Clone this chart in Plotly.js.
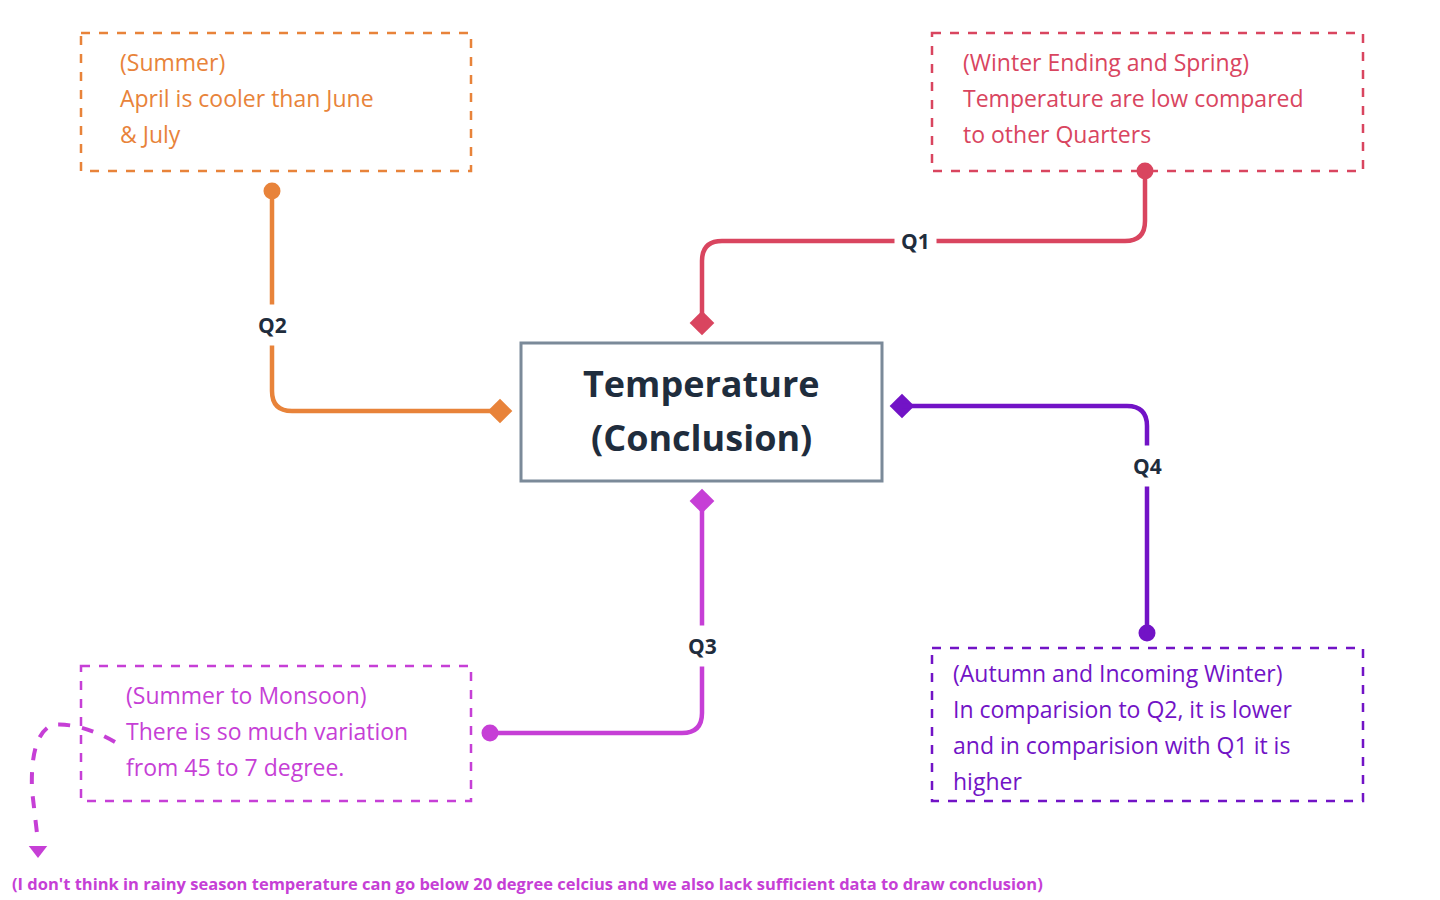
<!DOCTYPE html>
<html><head><meta charset="utf-8">
<script src="https://cdn.plot.ly/plotly-3.0.1.min.js"></script>
<style>body{margin:0;background:#fff}#chart{width:1440px;height:900px}</style>
</head><body><div id="chart"></div>
<script>
// Note boxes: [x0, y0, x1, y1], colour, text lines
const boxNames = ['Q2', 'Q1', 'Q3', 'Q4'];
const boxColors = ['#E8833A', '#D9455F', '#C63FD6', '#7213C6'];
const boxRects = [[81, 33, 471, 171], [932, 33, 1363, 171], [81, 666, 471, 801], [932, 648, 1363, 801]];
const boxTextPos = [[118, 62], [961, 62], [124, 695], [951, 673]];
const boxTexts = [
  ['(Summer)', 'April is cooler than June', '& July'],
  ['(Winter Ending and Spring)', 'Temperature are low compared', 'to other Quarters'],
  ['(Summer to Monsoon)', 'There is so much variation', 'from 45 to 7 degree.'],
  ['(Autumn and Incoming Winter)', 'In comparision to Q2, it is lower', 'and in comparision with Q1 it is', 'higher']
];
// Connector paths (SVG, in page pixels), start dot, end diamond, label position
const connPaths = [
  'M272,191 L272,391 Q272,411 292,411 L500,411',
  'M1145,171 L1145,221 Q1145,241 1125,241 L722,241 Q702,241 702,261 L702,323',
  'M702,501 L702,713 Q702,733 682,733 L490,733',
  'M902,406 L1127,406 Q1147,406 1147,426 L1147,633'
];
const dotPts = [[272, 191], [1145, 171], [490, 733], [1147, 633]];
const diamondPts = [[500, 411], [702, 323], [702, 501], [902, 406]];
const labelPts = [[272, 325], [915, 241], [702, 646], [1147, 466]];
const centerRect = [521, 343, 882, 481];
const centerText = ['Temperature', '(Conclusion)'];
const footnote = "(I don't think in rainy season temperature can go below 20 degree celcius and we also lack sufficient data to draw conclusion)";

const shapes = [], annotations = [], traces = [];
const FONT = '"Open Sans", "Noto Sans", sans-serif';

boxNames.forEach((name, i) => {
  const c = boxColors[i], r = boxRects[i];
  shapes.push({type: 'rect', x0: r[0], y0: r[1], x1: r[2], y1: r[3],
    line: {color: c, width: 2.5, dash: 'dash'}});
  shapes.push({type: 'path', path: connPaths[i], line: {color: c, width: 4.5}});
  boxTexts[i].forEach((t, k) => annotations.push({
    x: boxTextPos[i][0], y: boxTextPos[i][1] + k * 36, text: t, showarrow: false,
    xanchor: 'left', yanchor: 'middle', font: {family: FONT, size: 23, color: c}}));
  annotations.push({x: labelPts[i][0], y: labelPts[i][1], text: '<b>' + name + '</b>',
    showarrow: false, bgcolor: '#ffffff', borderpad: 6,
    font: {family: FONT, size: 21, color: '#1F2D3D'}});
  traces.push({type: 'scatter', mode: 'markers', x: [dotPts[i][0]], y: [dotPts[i][1]],
    marker: {size: 17, color: c}, hoverinfo: 'skip'});
  traces.push({type: 'scatter', mode: 'markers', x: [diamondPts[i][0]], y: [diamondPts[i][1]],
    marker: {size: 19, color: c, symbol: 'diamond'}, hoverinfo: 'skip'});
});

shapes.push({type: 'rect', x0: centerRect[0], y0: centerRect[1], x1: centerRect[2], y1: centerRect[3],
  line: {color: '#7B8A99', width: 3}});
centerText.forEach((t, k) => annotations.push({x: 701, y: 383 + k * 54, text: '<b>' + t + '</b>',
  showarrow: false, font: {family: FONT, size: 36, color: '#1F2D3D'}}));

// curly dashed side note arrow
shapes.push({type: 'path', path: 'M115,742 Q80,722 52,725 Q30,735 32,790 L38,842',
  line: {color: '#C63FD6', width: 4, dash: 'dash'}});
traces.push({type: 'scatter', mode: 'markers', x: [38], y: [850],
  marker: {size: 16, color: '#C63FD6', symbol: 'triangle-down'}, hoverinfo: 'skip'});
annotations.push({x: 10, y: 883, text: '<b>' + footnote + '</b>', showarrow: false,
  xanchor: 'left', font: {family: FONT, size: 16.5, color: '#C63FD6'}});

Plotly.newPlot('chart', traces, {
  width: 1440, height: 900, margin: {l: 0, r: 0, t: 0, b: 0},
  paper_bgcolor: '#fff', plot_bgcolor: '#fff', showlegend: false,
  xaxis: {range: [0, 1440], visible: false, fixedrange: true},
  yaxis: {range: [900, 0], visible: false, fixedrange: true},
  shapes: shapes, annotations: annotations
}, {staticPlot: true});
</script></body></html>
